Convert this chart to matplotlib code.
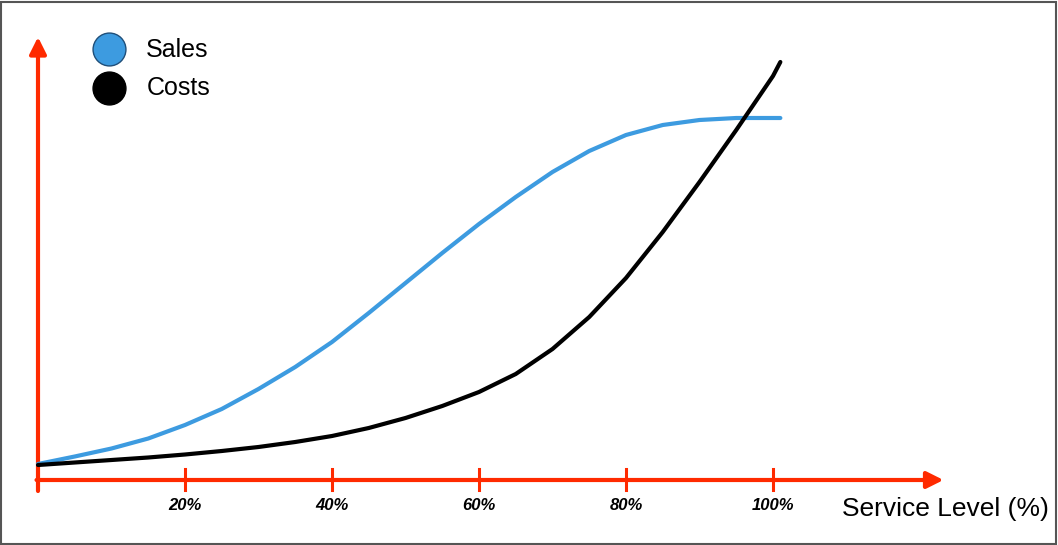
import numpy as np
import matplotlib.pyplot as plt
from matplotlib.patches import Rectangle

plt.rcParams['font.family'] = ['Liberation Sans', 'DejaVu Sans']

# data (x = service level in %, y = arbitrary units)
service_level = [0, 5, 10, 15, 20, 25, 30, 35, 40, 45, 50, 55, 60, 65, 70,
                 75, 80, 85, 90, 95, 100, 101]
sales = [16, 23.5, 31.5, 41.5, 55, 71, 91, 113, 138, 167, 197, 227, 256, 283, 308,
         329, 345, 355, 360, 362, 362, 362]
costs = [15, 17.5, 20, 22.5, 25.5, 29, 33, 38, 44, 52, 62, 74, 88, 106, 131,
         163, 202, 248, 298, 350, 404, 418]

tick_pos = [20, 40, 60, 80, 100]
tick_labels = ['20%', '40%', '60%', '80%', '100%']

red = '#ff2a00'
blue = '#3d9be0'

fig = plt.figure(figsize=(10.58, 5.45), dpi=100)
ax = fig.add_axes([0, 0, 1, 1])
ax.set_xlim(-38 / 7.35, (1058 - 38) / 7.35)
ax.set_ylim(-65, 480)
ax.axis('off')

# curves
ax.plot(service_level, sales, color=blue, lw=3, solid_capstyle='round',
        solid_joinstyle='round', zorder=3)
ax.plot(service_level, costs, color='black', lw=3, solid_capstyle='round',
        solid_joinstyle='round', zorder=3)

# hand drawn style axes with arrows
arrow = dict(arrowstyle='-|>,head_length=1.0,head_width=0.5', color=red, lw=3,
             mutation_scale=10, shrinkA=0, shrinkB=0)
ax.annotate('', xy=(0, 443), xytext=(0, -11), arrowprops=arrow, zorder=2)
ax.annotate('', xy=(123.2, 0), xytext=(-0.2, 0), arrowprops=arrow, zorder=2)

for pos, lab in zip(tick_pos, tick_labels):
    ax.plot([pos, pos], [11, -10], color=red, lw=2.2, zorder=2)
    ax.text(pos, -25, lab, ha='center', va='center', fontsize=12,
            fontweight='bold', fontstyle='italic')

ax.text(137.6, -29, 'Service Level (%)', ha='right', va='center', fontsize=19)

# legend
ax.scatter([9.7], [431], s=560, color=blue, edgecolors='#1f4f7a', linewidths=1, zorder=4)
ax.scatter([9.7], [392], s=560, color='black', zorder=4)
ax.text(14.7, 430, 'Sales', ha='left', va='center', fontsize=18)
ax.text(14.8, 392, 'Costs', ha='left', va='center', fontsize=18)

# frame around the picture
fig.patches.append(Rectangle((0.001, 0.002), 0.997, 0.995, transform=fig.transFigure,
                             fill=False, edgecolor='#555555', lw=1.5))

fig.savefig('out.png', dpi=100)
